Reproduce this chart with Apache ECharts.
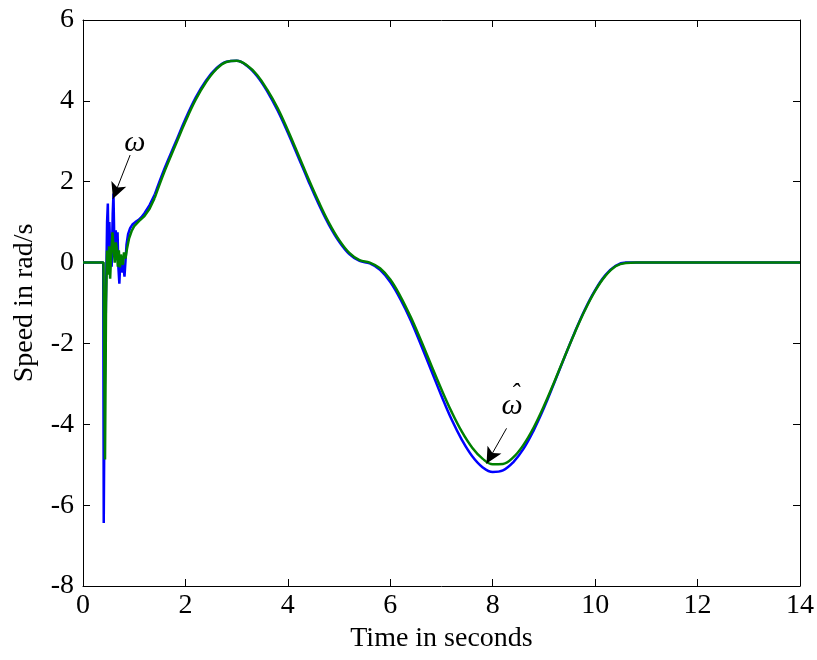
<!DOCTYPE html>
<html>
<head>
<meta charset="utf-8">
<script src="https://cdn.jsdelivr.net/npm/echarts@6/dist/echarts.min.js"></script>
<style>html,body{margin:0;padding:0;background:#fff;}#c{width:817px;height:660px;}</style>
</head>
<body>
<div id="c"></div>
<script>
// ---- data ----
var xTicks = [0, 2, 4, 6, 8, 10, 12, 14];
var yTicks = [-8, -6, -4, -2, 0, 2, 4, 6];

// start-up transient (time in s, speed in rad/s)
var omegaTransientTime = [0, 0.395, 0.405, 0.42, 0.47, 0.485, 0.50, 0.515, 0.53, 0.545, 0.56, 0.58, 0.595, 0.61, 0.625, 0.64, 0.66, 0.675, 0.69, 0.71, 0.73, 0.75, 0.77, 0.79, 0.81, 0.83, 0.85, 0.88, 0.92, 0.97, 1.02, 1.08, 1.14, 1.2, 1.3, 1.4];
var omegaTransient     = [0, 0, -6.44, -3.5, 1.0, 1.46, 0.2, 1.0, 0.35, 0.6, -0.1, 1.2, 1.71, 0.6, 0.35, 0.8, 0.2, 0.75, -0.1, -0.52, 0.1, 0.15, -0.25, -0.05, -0.35, 0.05, 0.45, 0.7, 0.85, 0.95, 1.0, 1.05, 1.12, 1.22, 1.42, 1.68];

var omegaHatTransientTime = [0, 0.40, 0.43, 0.45, 0.47, 0.49, 0.51, 0.53, 0.55, 0.575, 0.60, 0.62, 0.64, 0.66, 0.68, 0.70, 0.72, 0.74, 0.76, 0.78, 0.80, 0.83, 0.86, 0.90, 0.95, 1.0, 1.06, 1.12, 1.2, 1.3, 1.4];
var omegaHatTransient     = [0, 0, -4.87, -1.0, 0.3, -0.3, 0.4, -0.4, 0.2, 0.75, 0.3, 0.0, 0.5, 0.35, -0.1, 0.3, -0.12, 0.2, 0.0, -0.05, 0.25, 0.1, 0.35, 0.6, 0.78, 0.9, 0.98, 1.06, 1.15, 1.33, 1.60];

// smooth profile after the transient
var smoothTime = [1.4, 1.6, 1.8, 2.0, 2.2, 2.4, 2.6, 2.8, 3.0, 3.2, 3.4, 3.6, 3.8, 4.0, 4.2, 4.4, 4.6, 4.8, 5.0, 5.2, 5.4, 5.6, 5.8, 6.0, 6.2, 6.4, 6.6, 6.8, 7.0, 7.2, 7.4, 7.6, 7.8, 8.0, 8.2, 8.4, 8.6, 8.8, 9.0, 9.2, 9.4, 9.6, 9.8, 10.0, 10.2, 10.4, 10.6, 10.8, 14.0];
var omegaSmooth = [1.68, 2.35, 2.95, 3.55, 4.08, 4.50, 4.80, 4.97, 4.99, 4.87, 4.61, 4.23, 3.76, 3.21, 2.62, 2.02, 1.45, 0.94, 0.52, 0.21, 0.04, -0.02, -0.18, -0.48, -0.91, -1.43, -2.04, -2.67, -3.30, -3.89, -4.39, -4.79, -5.06, -5.18, -5.14, -4.94, -4.61, -4.15, -3.60, -2.98, -2.35, -1.73, -1.16, -0.68, -0.31, -0.08, 0, 0, 0];
var omegaHatSmooth = [1.60, 2.28, 2.89, 3.49, 4.03, 4.46, 4.78, 4.96, 4.99, 4.88, 4.64, 4.27, 3.82, 3.27, 2.68, 2.08, 1.51, 0.99, 0.56, 0.24, 0.06, 0.00, -0.14, -0.42, -0.84, -1.35, -1.93, -2.54, -3.14, -3.70, -4.19, -4.58, -4.85, -4.99, -4.98, -4.82, -4.51, -4.08, -3.55, -2.96, -2.34, -1.74, -1.18, -0.70, -0.33, -0.09, -0.01, 0, 0];

// annotation anchors (data units)
var omegaLabelAt = [1.01, 2.95];
var omegaArrow = [[0.92, 2.66], [0.585, 1.58]];
var omegaHatLabelAt = [8.38, -3.55];
var omegaHatArrow = [[8.27, -4.1], [7.88, -4.97]];

// ---- build ----
function pairs(t, v) { var out = []; for (var i = 0; i < t.length; i++) out.push([t[i], v[i]]); return out; }

var FONT = '"Liberation Serif", "Times New Roman", serif';
var BLUE = '#0000ff', GREEN = '#008000';
var chart = echarts.init(document.getElementById('c'), null, {renderer: 'canvas'});

function xAx(pos, show) {
  return {
    type: 'value', position: pos, min: xTicks[0], max: xTicks[xTicks.length - 1], interval: 2,
    axisLine: {show: true, onZero: false, lineStyle: {color: '#000', width: 1}},
    axisTick: {show: true, inside: true, length: 7, lineStyle: {color: '#000'}},
    axisLabel: {show: show, color: '#000', fontFamily: FONT, fontSize: 28, margin: 6},
    splitLine: {show: false},
    name: show ? 'Time in seconds' : '', nameLocation: 'middle', nameGap: 30,
    nameTextStyle: {color: '#000', fontFamily: FONT, fontSize: 28}
  };
}
function yAx(pos, show) {
  return {
    type: 'value', position: pos, min: yTicks[0], max: yTicks[yTicks.length - 1], interval: 2,
    axisLine: {show: true, onZero: false, lineStyle: {color: '#000', width: 1}},
    axisTick: {show: true, inside: true, length: 7, lineStyle: {color: '#000'}},
    axisLabel: {show: show, color: '#000', fontFamily: FONT, fontSize: 28, margin: 9},
    splitLine: {show: false},
    name: show ? 'Speed in rad/s' : '', nameLocation: 'middle', nameGap: 44,
    nameTextStyle: {color: '#000', fontFamily: FONT, fontSize: 28}
  };
}

function lineSeries(name, data, color, smooth, z) {
  return {
    name: name, type: 'line', data: data, showSymbol: false, symbol: 'none', smooth: smooth,
    lineStyle: {color: color, width: 2.5}, itemStyle: {color: color}, z: z
  };
}

var labelPoint = function (coord, text, offset, size) {
  return {coord: coord, value: text, symbol: 'circle', symbolSize: 1,
    itemStyle: {color: 'rgba(0,0,0,0)'},
    label: {show: true, position: 'inside', formatter: text, color: '#000', offset: offset || [0, 0],
      fontFamily: FONT, fontSize: size || 30, fontStyle: 'italic'}};
};

var annot = lineSeries('annot', [], '#000', false, 10);
annot.markLine = {
  silent: true, animation: false,
  symbol: ['none', 'arrow'], symbolSize: [12, 16],
  lineStyle: {color: '#000', width: 1, type: 'solid'}, label: {show: false},
  data: [
    [{coord: omegaArrow[0]}, {coord: omegaArrow[1]}],
    [{coord: omegaHatArrow[0]}, {coord: omegaHatArrow[1]}]
  ]
};
annot.markPoint = {
  silent: true, animation: false,
  data: [
    labelPoint(omegaLabelAt, 'ω'),
    labelPoint(omegaHatLabelAt, 'ω'),
    labelPoint(omegaHatLabelAt, '\u02C6', [3, -12], 26)
  ]
};

chart.setOption({
  animation: false,
  backgroundColor: '#fff',
  grid: {left: 83, top: 20, right: 16, bottom: 74, containLabel: false},
  xAxis: [xAx('bottom', true), xAx('top', false)],
  yAxis: [yAx('left', true), yAx('right', false)],
  series: [
    lineSeries('omega transient', pairs(omegaTransientTime, omegaTransient), BLUE, false, 2),
    lineSeries('omega', pairs(smoothTime, omegaSmooth), BLUE, 0.4, 2),
    lineSeries('omegaHat transient', pairs(omegaHatTransientTime, omegaHatTransient), GREEN, false, 3),
    lineSeries('omegaHat', pairs(smoothTime, omegaHatSmooth), GREEN, 0.4, 3),
    annot
  ]
});
</script>
</body>
</html>
